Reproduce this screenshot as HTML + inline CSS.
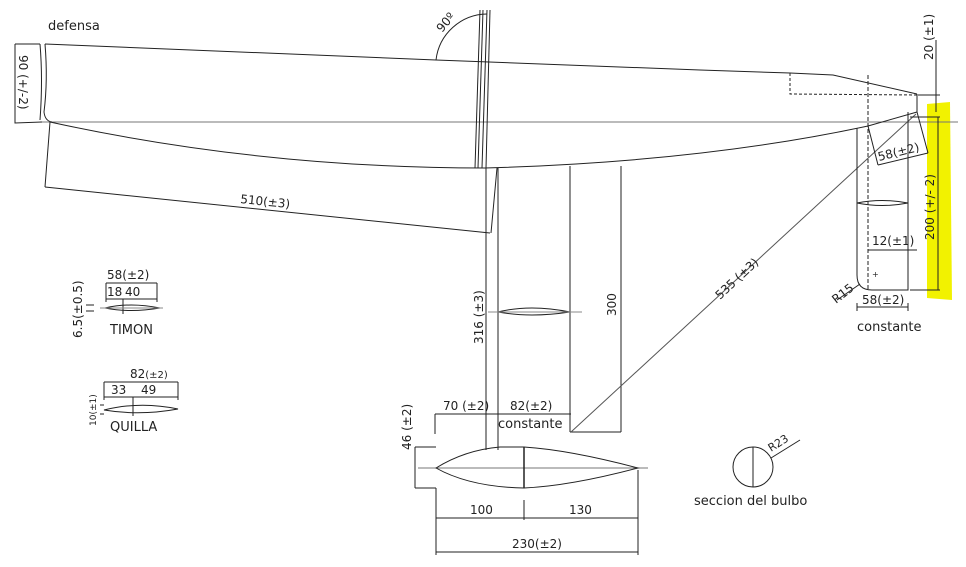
<!DOCTYPE html>
<html><head><meta charset="utf-8"><style>
html,body{margin:0;padding:0;background:#fff;}
svg{display:block;}
text{font-family:"DejaVu Sans","Liberation Sans",sans-serif;fill:#222;}
</style></head><body>
<svg width="966" height="567" viewBox="0 0 966 567" xmlns="http://www.w3.org/2000/svg">
<rect width="966" height="567" fill="#fff"/>
<!-- yellow highlight -->
<path d="M927 104 L950 102 L952 300 L927 298 Z" fill="#f2f200"/>
<g stroke="#222" stroke-width="1" fill="none">
<!-- waterline -->
<line x1="40" y1="122" x2="958" y2="122" stroke="#777"/>
<!-- deck -->
<polyline points="45,44 436,60 700,70 790,73 833,75 917,94"/>
<polyline points="790,73 790,94 917,95" stroke-dasharray="3,2"/>
<!-- bow -->
<path d="M45,44 Q48,80 44,112 Q45,121 52,122"/>
<path d="M40,44 Q43,80 40,120"/>
<!-- hull bottom -->
<path d="M50,122 Q260,168 485,168 Q700,162 868,126 L917,112"/>
<line x1="917" y1="94" x2="917" y2="112"/>
<!-- 90 dim -->
<polyline points="15,44 40,44"/>
<polyline points="15,44 15,123 42,122"/>
<!-- mast -->
<line x1="480" y1="10" x2="475" y2="168"/>
<line x1="483" y1="10" x2="478" y2="168"/>
<line x1="487" y1="10" x2="482" y2="168"/>
<line x1="490" y1="10" x2="486" y2="168"/>
<path d="M436,60 A52,52 0 0 1 487,14"/>
<!-- 510 dim -->
<line x1="50" y1="122" x2="45" y2="187"/>
<line x1="45" y1="187" x2="490" y2="233"/>
<line x1="497" y1="168" x2="491" y2="233"/>
<!-- keel -->
<line x1="486" y1="168" x2="486" y2="450"/>
<line x1="498" y1="168" x2="498" y2="450"/>
<line x1="570" y1="166" x2="570" y2="432"/>
<line x1="570" y1="432" x2="621" y2="432"/>
<line x1="621" y1="166" x2="621" y2="432"/>
<path d="M498,312 Q530,304 570,312 Q530,318 498,312 Z"/>
<line x1="488" y1="312" x2="582" y2="312" stroke="#888"/>
<!-- 535 -->
<line x1="571" y1="432" x2="916" y2="114" stroke="#555"/>
<!-- bulb -->
<line x1="418" y1="468" x2="648" y2="468" stroke="#777"/>
<path d="M436,468 Q465,450 500,447 L524,447 Q570,450 638,468 Q570,486 524,488 Q470,487 436,468 Z"/>
<line x1="524" y1="447" x2="524" y2="488" stroke-width="1.5"/>
<!-- bulb dims -->
<line x1="435" y1="414" x2="571" y2="414"/>
<line x1="435" y1="414" x2="435" y2="434"/>
<line x1="486" y1="447" x2="486" y2="446"/>
<line x1="415" y1="447" x2="436" y2="447"/>
<line x1="415" y1="447" x2="415" y2="488"/>
<line x1="415" y1="488" x2="436" y2="488"/>
<line x1="436" y1="488" x2="436" y2="555"/>
<line x1="638" y1="470" x2="638" y2="555"/>
<line x1="524" y1="500" x2="524" y2="520"/>
<line x1="436" y1="518" x2="638" y2="518"/>
<line x1="436" y1="552" x2="638" y2="552"/>
<!-- rudder -->
<path d="M857,128 L857,275 Q857,290 872,290 L908,290 L908,112"/>
<line x1="868" y1="75" x2="868" y2="290" stroke-dasharray="4,2"/>
<path d="M857,203 Q882,198 908,203 Q882,208 857,203 Z"/>
<line x1="868" y1="250" x2="917" y2="250"/>
<line x1="857" y1="307" x2="908" y2="307"/>
<line x1="857" y1="303" x2="857" y2="311"/>
<line x1="908" y1="303" x2="908" y2="311"/>
<line x1="868" y1="126" x2="878" y2="165"/>
<line x1="878" y1="165" x2="928" y2="153"/>
<line x1="917" y1="112" x2="928" y2="153"/>
<line x1="837" y1="300" x2="860" y2="284"/>
<line x1="910" y1="117" x2="940" y2="117"/>
<line x1="910" y1="290" x2="940" y2="290"/>
<line x1="938" y1="117" x2="938" y2="290"/>
<line x1="936" y1="40" x2="936" y2="112"/>
<line x1="918" y1="95" x2="940" y2="95"/>
<!-- timon -->
<line x1="106" y1="283" x2="157" y2="283"/>
<line x1="106" y1="283" x2="106" y2="302"/>
<line x1="157" y1="283" x2="157" y2="302"/>
<line x1="106" y1="299" x2="157" y2="299"/>
<path d="M105,308 Q130,302 160,308 Q130,313 105,308 Z"/>
<line x1="123" y1="299" x2="123" y2="314"/>
<line x1="100" y1="308" x2="163" y2="308" stroke="#888"/>
<line x1="86" y1="305" x2="94" y2="305"/>
<line x1="86" y1="311" x2="94" y2="311"/>
<!-- quilla -->
<line x1="104" y1="382" x2="178" y2="382"/>
<line x1="104" y1="382" x2="104" y2="400"/>
<line x1="178" y1="382" x2="178" y2="400"/>
<line x1="104" y1="397" x2="178" y2="397"/>
<path d="M104,410 Q140,401 178,409 Q140,416 104,410 Z"/>
<line x1="133" y1="397" x2="133" y2="416"/>
<line x1="100" y1="405" x2="104" y2="405"/>
<line x1="100" y1="414" x2="104" y2="414"/>
<!-- section -->
<circle cx="753" cy="467" r="20"/>
<line x1="753" y1="447" x2="753" y2="487"/>
<line x1="771" y1="458" x2="800" y2="440"/>
</g>
<g font-size="12">
<text x="48" y="30" font-size="13">defensa</text>
<text transform="translate(19,55) rotate(90)">90 (+/-2)</text>
<text transform="translate(442,33) rotate(-50)">90º</text>
<text transform="translate(240,203) rotate(6)">510(±3)</text>
<text transform="translate(483,344) rotate(-90)">316 (±3)</text>
<text transform="translate(616,316) rotate(-90)">300</text>
<text transform="translate(720,300) rotate(-43)">535 (±3)</text>
<text x="443" y="410">70 (±2)</text>
<text x="510" y="410">82(±2)</text>
<text x="498" y="428" font-size="13">constante</text>
<text transform="translate(411,450) rotate(-90)">46 (±2)</text>
<text x="470" y="514">100</text>
<text x="569" y="514">130</text>
<text x="512" y="548">230(±2)</text>
<text x="694" y="505" font-size="13">seccion del bulbo</text>
<text transform="translate(771,452) rotate(-32)" font-size="11">R23</text>
<text x="107" y="279">58(±2)</text>
<text x="107" y="296">18</text>
<text x="125" y="296">40</text>
<text transform="translate(82,338) rotate(-90)">6.5(±0.5)</text>
<text x="110" y="334" font-size="13">TIMON</text>
<text x="130" y="378">82<tspan font-size="10">(±2)</tspan></text>
<text x="111" y="394">33</text>
<text x="141" y="394">49</text>
<text transform="translate(96,426) rotate(-90)" font-size="9">10(±1)</text>
<text x="110" y="431" font-size="13">QUILLA</text>
<text transform="translate(879,161) rotate(-14)">58(±2)</text>
<text x="872" y="245">12(±1)</text>
<text transform="translate(934,240) rotate(-90)">200 (+/- 2)</text>
<text transform="translate(933,60) rotate(-90)">20 (±1)</text>
<text x="872" y="277" font-size="8">+</text>
<text transform="translate(836,304) rotate(-38)">R15</text>
<text x="862" y="304">58(±2)</text>
<text x="857" y="331" font-size="13">constante</text>
</g>
</svg>
</body></html>
